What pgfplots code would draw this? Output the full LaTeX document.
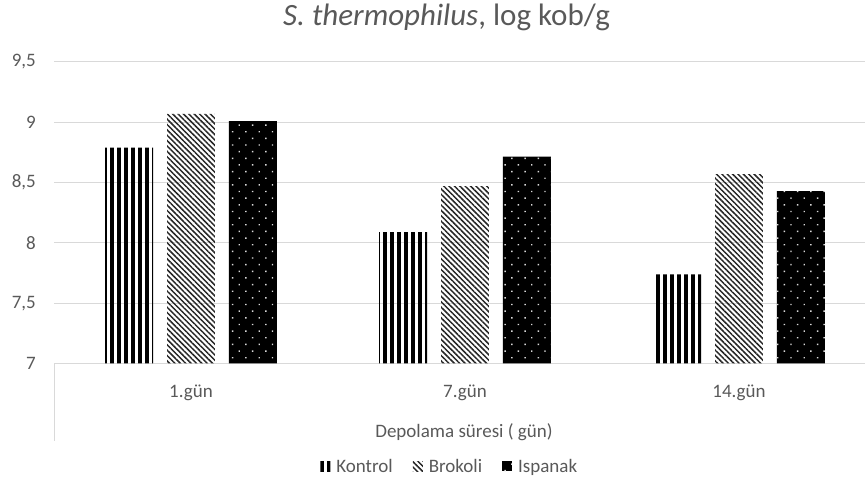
\documentclass[border=0pt]{standalone}
\usepackage{fontspec}
\setmainfont{Carlito}
\usepackage{pgfplots}
\pgfplotsset{compat=1.18}
\usetikzlibrary{patterns.meta}
\definecolor{txt}{HTML}{595959}
\definecolor{grd}{HTML}{D9D9D9}
\begin{document}
\begin{tikzpicture}
\useasboundingbox (0,0) rectangle (865pt,484pt);
\begin{axis}[
  at={(54pt,120.5pt)}, anchor=south west,
  scale only axis, width=811pt, height=301.5pt,
  xmin=-0.5, xmax=2.46, ymin=7, ymax=9.5,
  ytick={7,7.5,8,8.5,9,9.5},
  xtick={0,1,2}, xticklabels={1.gün,7.gün,14.gün},
  axis line style={draw=none},
  major tick length=0pt,
  ymajorgrids, grid style={grd, line width=1pt},
  tick label style={font=\fontsize{19}{22}\selectfont, text=txt},
  /pgf/number format/assume math mode=true,
  /pgf/number format/use comma,
  yticklabel style={anchor=east, inner sep=0pt, xshift=-18pt},
  xticklabel style={anchor=center, inner sep=0pt, yshift=-29.5pt},
  xlabel={Depolama süresi ( gün)},
  xlabel style={at={(axis description cs:0.5055,0)}, anchor=center, inner sep=0pt, yshift=-68.5pt, font=\fontsize{19}{22}\selectfont, text=txt},
  title={\textit{S. thermophilus}, log kob/g},
  title style={at={(axis description cs:0.484,1)}, anchor=center, inner sep=0pt, yshift=39pt, font=\fontsize{31}{36}\selectfont, text=txt},
  clip=false,
  ybar, bar width=0.175,
  legend style={at={(axis description cs:0.488,-0.343)}, anchor=center, draw=none, fill=none,
    legend columns=3, font=\fontsize{19}{22}\selectfont, text=txt,
    /tikz/every even column/.append style={column sep=18pt},
    /tikz/every odd column/.append style={column sep=4pt}},
  legend image code/.code={\path[#1,draw=none] (0pt,-4.5pt) rectangle (10pt,5.5pt);},
]
\addplot[draw=none, bar shift=-0.226, pattern={Lines[angle=90,distance=7pt,line width=3.5pt]}, pattern color=black]
  coordinates {(0,8.79) (1,8.09) (2,7.74)};
\addplot[draw=none, bar shift=0, pattern={Lines[angle=-45,distance=3.8pt,line width=1.5pt]}, pattern color=black!85]
  coordinates {(0,9.07) (1,8.47) (2,8.57)};
\addplot[draw=none, bar shift=0.226, preaction={fill=black}, pattern={Dots[distance=9.4pt,angle=45,radius=1pt]}, pattern color=white!85!black]
  coordinates {(0,9.01) (1,8.715) (2,8.43)};
\legend{Kontrol, Brokoli, Ispanak}
\draw[grd, line width=1pt] (rel axis cs:0,0) -- ([yshift=-78pt]rel axis cs:0,0);
\end{axis}
\end{tikzpicture}
\end{document}
